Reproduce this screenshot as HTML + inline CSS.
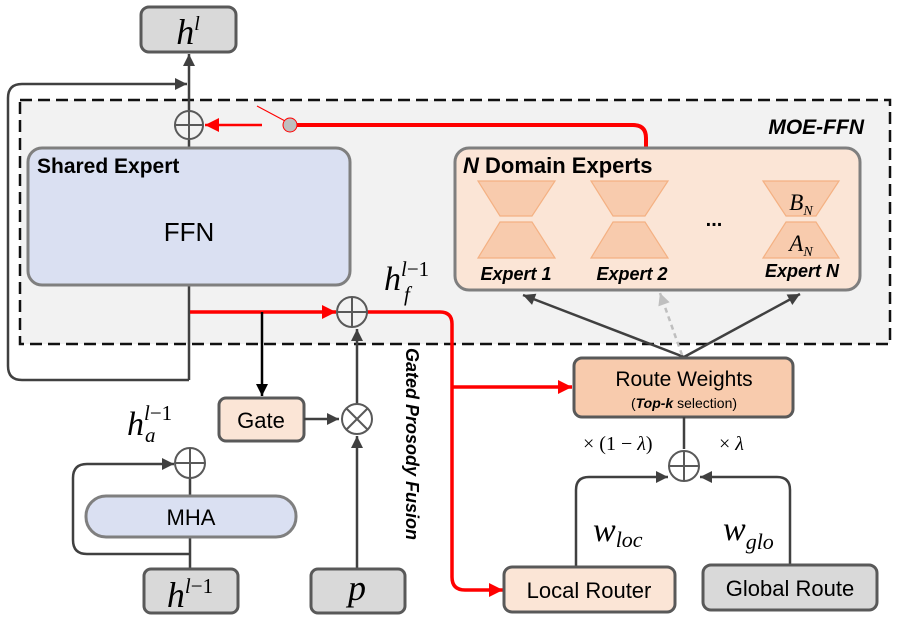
<!DOCTYPE html><html><head><meta charset="utf-8"><style>body{margin:0;background:#fff}svg{display:block}</style></head><body>
<svg width="897" height="623" viewBox="0 0 897 623" xmlns="http://www.w3.org/2000/svg" font-family="Liberation Sans, sans-serif">
<defs>
<marker id="a" viewBox="0 0 10 10" refX="10" refY="5" markerWidth="14" markerHeight="12" orient="auto" markerUnits="userSpaceOnUse"><path d="M0,0 L10,5 L0,10 z" fill="#404040"/></marker>
<marker id="ak" viewBox="0 0 10 10" refX="10" refY="5" markerWidth="14" markerHeight="12" orient="auto" markerUnits="userSpaceOnUse"><path d="M0,0 L10,5 L0,10 z" fill="#000"/></marker>
<marker id="ar" viewBox="0 0 10 10" refX="10" refY="5" markerWidth="16" markerHeight="14" orient="auto" markerUnits="userSpaceOnUse"><path d="M0,0 L10,5 L0,10 z" fill="#f00"/></marker>
<marker id="al" viewBox="0 0 10 10" refX="10" refY="5" markerWidth="14" markerHeight="12" orient="auto" markerUnits="userSpaceOnUse"><path d="M0,0 L10,5 L0,10 z" fill="#bfbfbf"/></marker>
</defs>
<rect x="20" y="100" width="870" height="244" fill="#f2f2f2" stroke="#111" stroke-width="2.5" stroke-dasharray="12,6"/>
<text x="864" y="134" font-size="21" font-weight="bold" font-style="italic" text-anchor="end">MOE-FFN</text>
<rect x="141" y="7" width="95" height="45" rx="8" fill="#d9d9d9" stroke="#595959" stroke-width="3"/>
<text x="188" y="44" font-family="Liberation Serif, serif" font-style="italic" font-size="36" text-anchor="middle">h<tspan font-size="20" dy="-14">l</tspan></text>
<line x1="189" y1="380" x2="189" y2="54" stroke="#404040" stroke-width="2.5" marker-end="url(#a)"/>
<path d="M189,380 H22 Q8,380 8,366 V98 Q8,84 22,84 H187" fill="none" stroke="#404040" stroke-width="2.5" marker-end="url(#a)"/>
<circle cx="189" cy="125" r="14" fill="#f2f2f2" stroke="#595959" stroke-width="2"/>
<line x1="175" y1="125" x2="203" y2="125" stroke="#595959" stroke-width="2"/><line x1="189" y1="111" x2="189" y2="139" stroke="#595959" stroke-width="2"/>
<line x1="262" y1="125" x2="205" y2="125" stroke="#f00" stroke-width="2.5" marker-end="url(#ar)"/>
<line x1="257" y1="106" x2="287" y2="122" stroke="#f00" stroke-width="1"/>
<path d="M297,125 H633 Q646,125 646,138 V148" fill="none" stroke="#f00" stroke-width="4"/>
<circle cx="290" cy="125" r="7" fill="#bfbfbf" stroke="#f00" stroke-width="1"/>
<rect x="28" y="148" width="322" height="137" rx="14" fill="#dae0f2" stroke="#7f7f7f" stroke-width="3"/>
<text x="37" y="173" font-size="21" font-weight="bold">Shared Expert</text>
<text x="189" y="241" font-size="26" text-anchor="middle">FFN</text>
<rect x="455" y="148" width="405" height="142" rx="14" fill="#fbe5d6" stroke="#7f7f7f" stroke-width="3"/>
<text x="463" y="173" font-size="22" font-weight="bold"><tspan font-style="italic">N</tspan> Domain Experts</text>
<g fill="#f8cbad" stroke="#f4b183" stroke-width="1.2">
<path d="M478,181 H555 L532,216 H500 Z"/><path d="M500,222 H532 L555,258 H478 Z"/>
<path d="M591,181 H668 L645,216 H613 Z"/><path d="M613,222 H645 L668,258 H591 Z"/>
<path d="M763,181 H839 L816,216 H786 Z"/><path d="M786,222 H816 L839,258 H763 Z"/>
</g>
<text x="801" y="210" font-family="Liberation Serif, serif" font-style="italic" font-size="23" text-anchor="middle">B<tspan font-size="14" dy="5">N</tspan></text>
<text x="801" y="251" font-family="Liberation Serif, serif" font-style="italic" font-size="23" text-anchor="middle">A<tspan font-size="14" dy="5">N</tspan></text>
<text x="714" y="226" font-size="20" font-weight="bold" text-anchor="middle">...</text>
<g font-size="18" font-weight="bold" font-style="italic" text-anchor="middle">
<text x="516" y="280">Expert 1</text><text x="632" y="280">Expert 2</text><text x="802" y="277">Expert N</text></g>
<line x1="190" y1="312" x2="336" y2="312" stroke="#f00" stroke-width="3.5" marker-end="url(#ar)"/>
<line x1="262" y1="312" x2="262" y2="396" stroke="#000" stroke-width="2.5" marker-end="url(#ak)"/>
<path d="M366,312 H440 Q452,312 452,324 V577 Q452,590 465,590 H503" fill="none" stroke="#f00" stroke-width="3.5" marker-end="url(#ar)"/>
<line x1="452" y1="387" x2="572" y2="387" stroke="#f00" stroke-width="3.5" marker-end="url(#ar)"/>
<circle cx="352" cy="312" r="15" fill="#f2f2f2" stroke="#595959" stroke-width="2"/>
<line x1="337" y1="312" x2="367" y2="312" stroke="#595959" stroke-width="2"/><line x1="352" y1="297" x2="352" y2="327" stroke="#595959" stroke-width="2"/>
<text x="384" y="290" font-family="Liberation Serif, serif" font-style="italic" font-size="34">h<tspan font-size="21" dy="-14">l</tspan><tspan font-style="normal" font-size="21">−1</tspan></text>
<text x="404" y="301" font-family="Liberation Serif, serif" font-style="italic" font-size="21">f</text>
<rect x="219" y="398" width="85" height="43" rx="7" fill="#fbe5d6" stroke="#595959" stroke-width="3"/>
<text x="261" y="428" font-size="22" text-anchor="middle">Gate</text>
<line x1="304" y1="419" x2="339" y2="419" stroke="#404040" stroke-width="2.5" marker-end="url(#a)"/>
<line x1="357" y1="568" x2="357" y2="436" stroke="#404040" stroke-width="2.5" marker-end="url(#a)"/>
<line x1="357" y1="404" x2="357" y2="329" stroke="#404040" stroke-width="2.5" marker-end="url(#a)"/>
<circle cx="357" cy="419" r="15" fill="#fff" stroke="#595959" stroke-width="2"/>
<line x1="346" y1="408" x2="368" y2="430" stroke="#595959" stroke-width="2"/><line x1="368" y1="408" x2="346" y2="430" stroke="#595959" stroke-width="2"/>
<text x="406" y="348" font-size="18" font-weight="bold" font-style="italic" transform="rotate(90 406 348)">Gated Prosody Fusion</text>
<text x="127" y="435" font-family="Liberation Serif, serif" font-style="italic" font-size="34">h<tspan font-size="21" dy="-15">l</tspan><tspan font-style="normal" font-size="21">−1</tspan></text>
<text x="145" y="442" font-family="Liberation Serif, serif" font-style="italic" font-size="21">a</text>
<line x1="190" y1="568" x2="190" y2="477" stroke="#404040" stroke-width="2.5"/>
<path d="M190,554 H87 Q73,554 73,540 V478 Q73,464 87,464 H174" fill="none" stroke="#404040" stroke-width="2.5" marker-end="url(#a)"/>
<circle cx="190" cy="463" r="15" fill="#fff" stroke="#595959" stroke-width="2"/>
<line x1="175" y1="463" x2="205" y2="463" stroke="#595959" stroke-width="2"/><line x1="190" y1="448" x2="190" y2="478" stroke="#595959" stroke-width="2"/>
<rect x="86" y="496" width="210" height="41" rx="20" fill="#dae0f2" stroke="#7f7f7f" stroke-width="3"/>
<text x="191" y="525" font-size="22" text-anchor="middle">MHA</text>
<rect x="144" y="569" width="94" height="44" rx="7" fill="#d9d9d9" stroke="#595959" stroke-width="3"/>
<text x="190" y="607" font-family="Liberation Serif, serif" font-style="italic" font-size="36" text-anchor="middle">h<tspan font-size="21" dy="-14">l</tspan><tspan font-style="normal" font-size="21">−1</tspan></text>
<rect x="311" y="569" width="94" height="44" rx="7" fill="#d9d9d9" stroke="#595959" stroke-width="3"/>
<text x="357" y="600" font-family="Liberation Serif, serif" font-style="italic" font-size="36" text-anchor="middle">p</text>
<line x1="684" y1="357" x2="523" y2="295" stroke="#404040" stroke-width="2.5" marker-end="url(#a)"/>
<line x1="684" y1="357" x2="800" y2="294" stroke="#404040" stroke-width="2.5" marker-end="url(#a)"/>
<line x1="682" y1="355" x2="660" y2="293" stroke="#bfbfbf" stroke-width="2.5" stroke-dasharray="5,4" marker-end="url(#al)"/>
<rect x="574" y="358" width="219" height="59" rx="8" fill="#f8cbad" stroke="#595959" stroke-width="3"/>
<text x="684" y="386" font-size="21" text-anchor="middle">Route Weights</text>
<text x="684" y="408" font-size="14" text-anchor="middle">(<tspan font-weight="bold" font-style="italic">Top-k</tspan> selection)</text>
<line x1="684" y1="417" x2="684" y2="449" stroke="#404040" stroke-width="2.5"/>
<path d="M576,567 V490 Q576,477 589,477 H668" fill="none" stroke="#404040" stroke-width="2.5" marker-end="url(#a)"/>
<path d="M790,565 V490 Q790,477 777,477 H700" fill="none" stroke="#404040" stroke-width="2.5" marker-end="url(#a)"/>
<circle cx="684" cy="466" r="15" fill="#fff" stroke="#595959" stroke-width="2"/>
<line x1="669" y1="466" x2="699" y2="466" stroke="#595959" stroke-width="2"/><line x1="684" y1="451" x2="684" y2="481" stroke="#595959" stroke-width="2"/>
<text x="583" y="450" font-family="Liberation Serif, serif" font-size="20">× (1 − <tspan font-style="italic">λ</tspan>)</text>
<text x="719" y="450" font-family="Liberation Serif, serif" font-size="20">× <tspan font-style="italic">λ</tspan></text>
<text x="593" y="541" font-family="Liberation Serif, serif" font-style="italic" font-size="34">w<tspan font-size="22" dy="6">loc</tspan></text>
<text x="723" y="540" font-family="Liberation Serif, serif" font-style="italic" font-size="34">w<tspan font-size="22" dy="9">glo</tspan></text>
<rect x="504" y="567" width="171" height="45" rx="8" fill="#fbe5d6" stroke="#595959" stroke-width="3"/>
<text x="589" y="598" font-size="22" text-anchor="middle">Local Router</text>
<rect x="703" y="565" width="174" height="45" rx="8" fill="#d9d9d9" stroke="#595959" stroke-width="3"/>
<text x="790" y="596" font-size="22" text-anchor="middle">Global Route</text>
</svg>
</body></html>
